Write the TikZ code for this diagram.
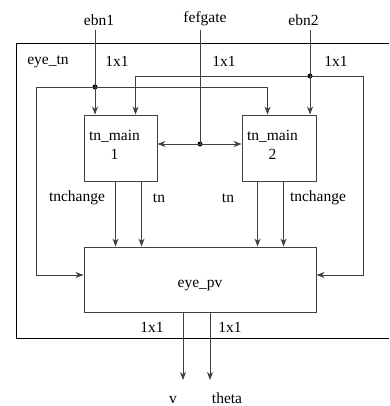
\documentclass[tikz,border=0pt]{standalone}
\usepackage{fontspec}
\setmainfont{Liberation Serif}
\usetikzlibrary{positioning, arrows.meta, calc}

\begin{document}
\begin{tikzpicture}[
      x=1pt, y=-1pt,
      >={Stealth[length=8pt, width=6pt, inset=2.5pt]},
      block/.style={rectangle, draw=black!75, line width=0.9pt, inner sep=0pt},
      sig/.style={->, line width=0.9pt, draw=black!75},
      wire/.style={line width=0.9pt, draw=black!75},
      lab/.style={font=\fontsize{15.5}{18.5}\selectfont, inner sep=0pt},
      dot/.style={circle, fill=black, inner sep=0pt, minimum size=5pt}
    ]
    \useasboundingbox (0,0) rectangle (389,406);

    % outer subsystem frame (right side runs off the picture)
    \draw[line width=1pt] (389,44) -- (16,44) -- (16,338) -- (389,338);
    \node[lab] (frame) at (48,62) {eye\_tn};

    % blocks
    \node[block, minimum width=73pt, minimum height=66pt] (tn1) at (120.5,148) {};
    \node[block, minimum width=74pt, minimum height=66pt] (tn2) at (279,148) {};
    \node[block, minimum width=232pt, minimum height=65pt] (pv) at (200,279.5) {};
    \node[lab, align=center] (tn1txt) at (114.5,145) {tn\_main\\1};
    \node[lab, align=center] (tn2txt) at (272.5,145) {tn\_main\\2};
    \node[lab] (pvtxt) at (200,286) {eye\_pv};

    % inputs and outputs
    \node[lab, anchor=south] (ebn1) at (99,26) {ebn1};
    \node[lab, anchor=south] (fef) at (205,26) {fefgate};
    \node[lab, anchor=south] (ebn2) at (303.5,26) {ebn2};
    \node[lab, anchor=base] (v) at (173,403) {v};
    \node[lab, anchor=base] (theta) at (227,403) {theta};
    \coordinate (vo) at (183,380);
    \coordinate (tho) at (210,380);

    % junctions
    \node[dot] (j1) at (95,87) {};
    \node[dot] (j2) at (310,76) {};
    \node[dot] (j3) at (200,144) {};

    % ports
    \coordinate (a1) at ($(tn1.south west)+(32,0)$);
    \coordinate (a2) at ($(tn1.south west)+(58,0)$);
    \coordinate (a3) at ($(tn2.south west)+(16,0)$);
    \coordinate (a4) at ($(tn2.south west)+(42,0)$);
    \coordinate (pvl) at ($(pv.west)+(0,-4.5)$);
    \coordinate (pvr) at ($(pv.east)+(0,-4.5)$);

    % ebn1
    \draw[sig] ([yshift=-4pt]j1 |- ebn1.south) -- (j1 |- tn1.north);
    \draw[sig] (j1.center) -| ($(tn2.north west)+(26,0)$);
    \draw[sig] (j1.center) -- (36,87) |- (pvl);

    % ebn2
    \draw[sig] ([yshift=-4pt]j2 |- ebn2.south) -- (j2 |- tn2.north);
    \draw[sig] (j2.center) -| ($(tn1.north west)+(52,0)$);
    \draw[sig] (j2.center) -- (363,76) |- (pvr);

    % fefgate
    \draw[wire] ([yshift=-4pt]j3 |- fef.south) -- (j3.center);
    \draw[sig] (j3.center) -- (j3 -| tn1.east);
    \draw[sig] (j3.center) -- (j3 -| tn2.west);

    % block outputs
    \draw[sig] (a1) -- (a1 |- pv.north);
    \draw[sig] (a2) -- (a2 |- pv.north);
    \draw[sig] (a3) -- (a3 |- pv.north);
    \draw[sig] (a4) -- (a4 |- pv.north);
    \draw[sig] (vo |- pv.south) -- (vo);
    \draw[sig] (tho |- pv.south) -- (tho);

    % signal labels
    \node[lab] (d1) at (117,61) {1x1};
    \node[lab] (d2) at (224,61) {1x1};
    \node[lab] (d3) at (336,61) {1x1};
    \node[lab] (d4) at (152,327) {1x1};
    \node[lab] (d5) at (230,327) {1x1};
    \node[lab] (c1) at (77,198) {tnchange};
    \node[lab] (t1) at (159,198) {tn};
    \node[lab] (t2) at (228,198) {tn};
    \node[lab] (c2) at (318,198) {tnchange};
  \end{tikzpicture}
\end{document}
